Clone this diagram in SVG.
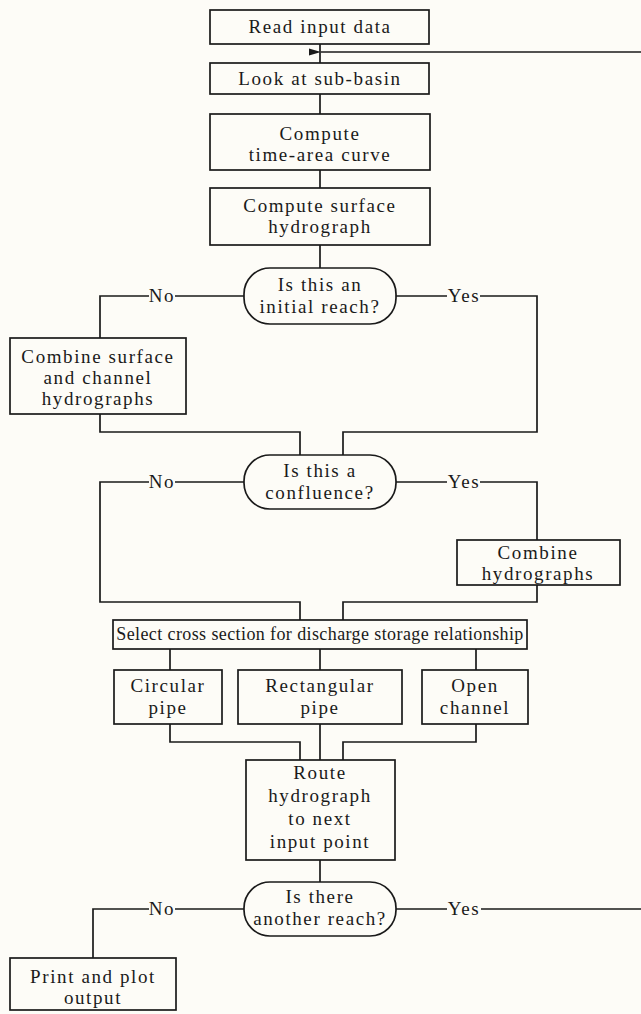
<svg xmlns="http://www.w3.org/2000/svg" width="641" height="1014" viewBox="0 0 641 1014">
  <style>
    .box { fill: #fdfcf7; stroke: #1a1a1a; stroke-width: 1.7; }
    .ln { fill: none; stroke: #1a1a1a; stroke-width: 1.7; }
    text { font-family: "Liberation Serif", "Times New Roman", serif; font-size: 19px; fill: #1a1a1a; text-anchor: middle; letter-spacing: 1.6px; }
    .tight { letter-spacing: 0.4px; font-size: 18px; }
  </style>
  <defs>
    <marker id="arrow" viewBox="0 0 12 8" refX="0" refY="4" markerWidth="12" markerHeight="8" orient="auto-start-reverse" markerUnits="userSpaceOnUse">
      <path d="M0,4 L12,0.5 L12,7.5 Z" fill="#1a1a1a"/>
    </marker>
  </defs>
  <rect x="0" y="0" width="641" height="1014" fill="#fdfcf7"/>

  <g id="connectors">
    <!-- main spine, top -->
    <path class="ln" d="M320,44 V63 M320,94 V114 M320,170 V188 M320,245 V268"/>
    <!-- loop back from "another reach" -->
    <path class="ln" d="M641,52 H321" marker-end="url(#arrow)"/>
    <!-- initial reach branches -->
    <path class="ln" d="M244,296 H175 M149,296 H100 V338"/>
    <path class="ln" d="M396,296 H447 M480,296 H537 V432 H343 V455"/>
    <path class="ln" d="M100,414 V432 H300 V455"/>
    <!-- confluence branches -->
    <path class="ln" d="M244,482 H175 M149,482 H100 V602 H300 V620"/>
    <path class="ln" d="M396,482 H447 M480,482 H537 V540"/>
    <path class="ln" d="M537,585 V602 H343 V620"/>
    <!-- cross section choices -->
    <path class="ln" d="M170,649 V670 M320,649 V670 M476,649 V670"/>
    <path class="ln" d="M170,724 V742 H300 V760 M320,724 V760 M476,724 V742 H343 V760"/>
    <path class="ln" d="M320,860 V882"/>
    <!-- another reach branches -->
    <path class="ln" d="M244,909 H175 M149,909 H93 V958"/>
    <path class="ln" d="M396,909 H447 M481,909 H641"/>
    <text x="162" y="302">No</text>
    <text x="464" y="302">Yes</text>
    <text x="162" y="488">No</text>
    <text x="464" y="488">Yes</text>
    <text x="162" y="915">No</text>
    <text x="464" y="915">Yes</text>
  </g>

  <g id="read-input">
    <rect class="box" x="210" y="10" width="219" height="34"/>
    <text x="320" y="33">Read input data</text>
  </g>
  <g id="sub-basin">
    <rect class="box" x="210" y="63" width="219" height="31"/>
    <text x="320" y="85">Look at sub-basin</text>
  </g>
  <g id="time-area">
    <rect class="box" x="210" y="114" width="220" height="56"/>
    <text x="320" y="140">Compute</text>
    <text x="320" y="161">time-area curve</text>
  </g>
  <g id="surface-hydrograph">
    <rect class="box" x="210" y="188" width="220" height="57"/>
    <text x="320" y="212">Compute surface</text>
    <text x="320" y="233">hydrograph</text>
  </g>
  <g id="initial-reach">
    <rect class="box" x="244" y="268" width="152" height="56" rx="26" ry="26"/>
    <text x="320" y="291">Is this an</text>
    <text x="320" y="313">initial reach?</text>
  </g>
  <g id="combine-surface">
    <rect class="box" x="10" y="338" width="176" height="76"/>
    <text x="98" y="363">Combine surface</text>
    <text x="98" y="384">and channel</text>
    <text x="98" y="405">hydrographs</text>
  </g>
  <g id="confluence">
    <rect class="box" x="244" y="455" width="152" height="54" rx="26" ry="26"/>
    <text x="320" y="477">Is this a</text>
    <text x="320" y="499">confluence?</text>
  </g>
  <g id="combine-hydrographs">
    <rect class="box" x="457" y="540" width="163" height="45"/>
    <text x="538" y="559">Combine</text>
    <text x="538" y="580">hydrographs</text>
  </g>
  <g id="cross-section">
    <rect class="box" x="113" y="620" width="414" height="29"/>
    <text class="tight" x="320" y="640">Select cross section for discharge storage relationship</text>
  </g>
  <g id="circular-pipe">
    <rect class="box" x="114" y="670" width="108" height="54"/>
    <text x="168" y="692">Circular</text>
    <text x="168" y="714">pipe</text>
  </g>
  <g id="rectangular-pipe">
    <rect class="box" x="238" y="670" width="164" height="54"/>
    <text x="320" y="692">Rectangular</text>
    <text x="320" y="714">pipe</text>
  </g>
  <g id="open-channel">
    <rect class="box" x="422" y="670" width="106" height="54"/>
    <text x="475" y="692">Open</text>
    <text x="475" y="714">channel</text>
  </g>
  <g id="route">
    <rect class="box" x="246" y="760" width="149" height="100"/>
    <text x="320" y="779">Route</text>
    <text x="320" y="802">hydrograph</text>
    <text x="320" y="825">to next</text>
    <text x="320" y="848">input point</text>
  </g>
  <g id="another-reach">
    <rect class="box" x="244" y="882" width="152" height="54" rx="26" ry="26"/>
    <text x="320" y="903">Is there</text>
    <text x="320" y="925">another reach?</text>
  </g>
  <g id="print-output">
    <rect class="box" x="10" y="958" width="166" height="52"/>
    <text x="93" y="983">Print and plot</text>
    <text x="93" y="1004">output</text>
  </g>
</svg>
